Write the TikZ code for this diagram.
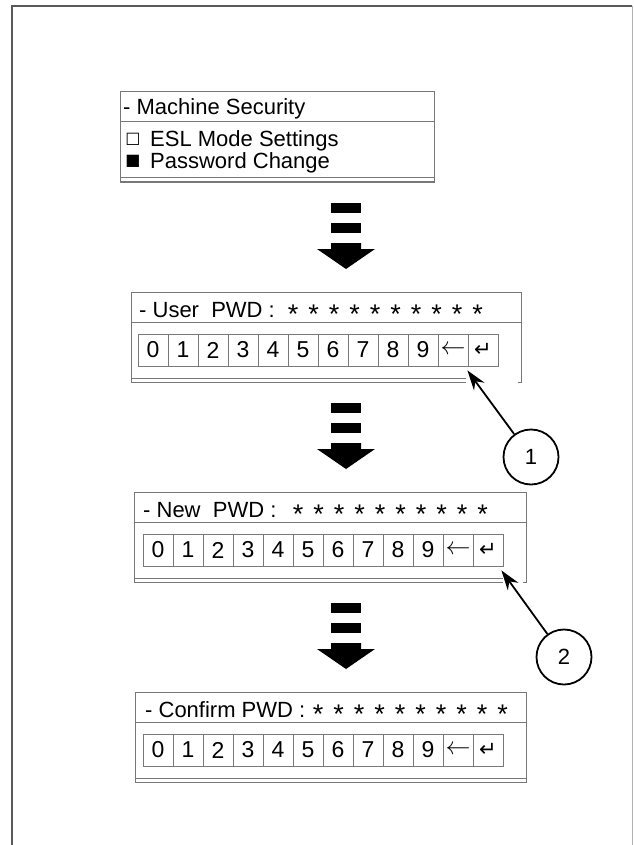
\documentclass[tikz,border=0pt]{standalone}
\usepackage{fontspec}
\setmainfont{Liberation Sans}
\newfontfamily\symbfont{DejaVu Sans}
\usetikzlibrary{arrows.meta, positioning, calc}
\definecolor{FrameGray}{RGB}{90,90,90}
\definecolor{LineGray}{RGB}{120,120,120}

\begin{document}
\begin{tikzpicture}[x=1pt, y=-1pt,
    panel/.style={draw=LineGray, line width=1pt},
    keycell/.style={draw=LineGray, line width=0.8pt, minimum width=30pt, minimum height=32pt, inner sep=0pt, font=\fontsize{23}{26}\selectfont},
    paneltext/.style={anchor=base west, inner sep=0pt, font=\fontsize{22}{26}\selectfont},
    starmark/.style={inner sep=0pt, font=\fontsize{27}{30}\selectfont},
    callout/.style={circle, draw, line width=1.8pt, minimum size=55pt, inner sep=0pt, font=\fontsize{22}{26}\selectfont},
    leader/.style={-{Stealth[length=20pt,width=13pt]}, line width=1.8pt}
]
    \useasboundingbox (0,0) rectangle (633,845);
    \draw[FrameGray, line width=1.5pt] (12,845) -- (12,6) -- (632,6);
    \draw[gray!60, line width=1pt] (632,6) -- (632,845);

    % menu panel
    \draw[panel] (120,92) rectangle (434,182);
    \draw[panel] (120,122) -- (434,122);
    \draw[panel] (120,178) -- (434,178);
    \node[paneltext] (menu) at (123,115) {- Machine Security};
    \node (off) at (133,139) {\symbfont\fontsize{16}{16}\selectfont □};
    \node (on) at (133,161) {\symbfont\fontsize{16}{16}\selectfont ■};
    \node[paneltext] (esl) at (150,146.5) {ESL Mode Settings};
    \node[paneltext] (pwd) at (150,168.5) {Password Change};

    % password panels
    \foreach \id/\top/\lft/\rgt/\gx/\kx/\hx/\sx/\hdr in {u/292/131/521/466/138/139/293/{- User\ \ PWD :},
        n/492/134/526/503/143/143/298/{- New\ \ PWD :},
        c/692/135/526/526/143/145/318/{- Confirm PWD :}} {
        \draw[panel] (\lft,{\top+90}) -- (\lft,\top) -- (\rgt,\top) -- (\rgt,{\top+90}) -- ++(-3,0);
        \draw[panel] (\lft,{\top+30}) -- (\rgt,{\top+30});
        \draw[panel] (\lft,{\top+86}) -- (\gx,{\top+86});
        \draw[panel] (\lft,{\top+90}) -- (\gx,{\top+90});
        \node[paneltext] (\id hdr) at (\hx,{\top+25}) {\hdr};
        \foreach \s in {0,...,9}
            \node[starmark] (\id s\s) at ({\sx+20.5*\s},{\top+22.5}) {*};
        \foreach \k [count=\i from 0] in {0,1,2,3,4,5,6,7,8,9,{$\leftarrow$},{\symbfont\fontsize{21}{21}\selectfont ↵}}
            \node[keycell] (\id\i) at ({\kx+15+30*\i},{\top+58}) {\k};
    }

    % step arrows
    \foreach \ay in {203,403,603} {
        \fill (331,\ay) rectangle (361,{\ay+10});
        \fill (331,{\ay+20}) rectangle (361,{\ay+30});
        \fill (331,{\ay+40}) -- (361,{\ay+40}) -- (361,{\ay+46}) -- (375,{\ay+46})
            -- (346,{\ay+66}) -- (317,{\ay+46}) -- (331,{\ay+46}) -- cycle;
    }

    % callouts
    \node[callout] (one) at (531,457) {1};
    \node[callout] (two) at (564,657) {2};
    \coordinate (tip1) at ($(u10.south east)+(-1,4)$);
    \coordinate (tip2) at ($(n11.south east)+(-2,4)$);
    \draw[leader] (one) -- (tip1);
    \draw[leader] (two) -- (tip2);
\end{tikzpicture}
\end{document}
